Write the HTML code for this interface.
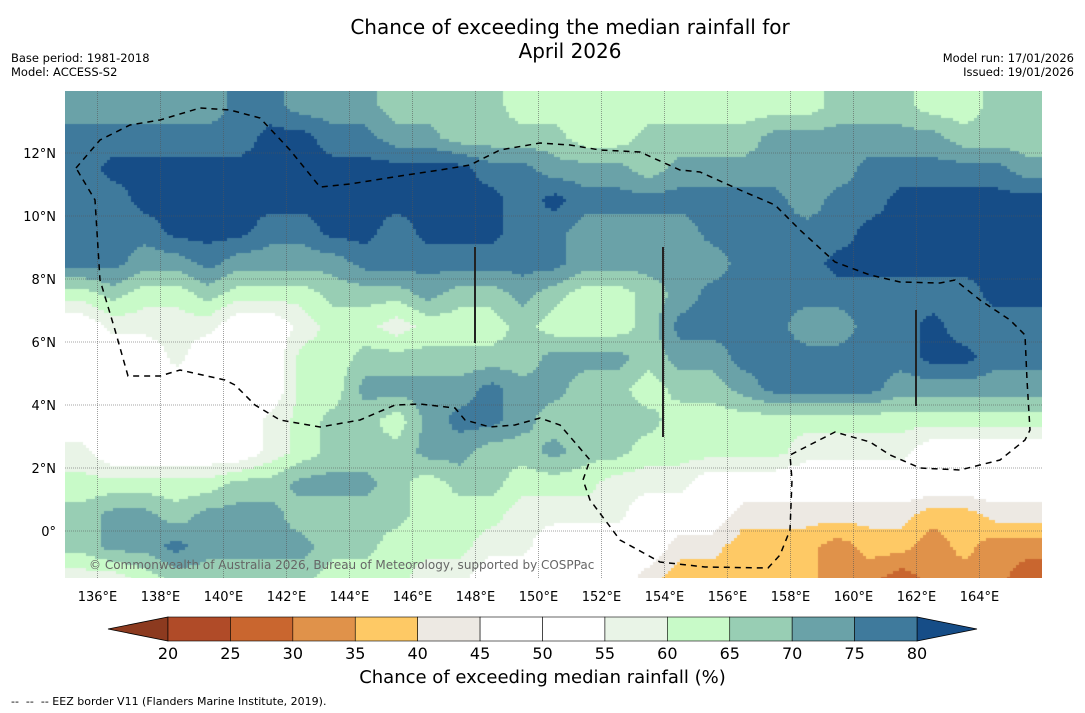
<!DOCTYPE html>
<html><head><meta charset="utf-8"><style>
body{margin:0;background:#fff;width:1085px;height:713px;overflow:hidden;position:relative;font-family:"DejaVu Sans","Liberation Sans",sans-serif;}
.t{position:absolute;white-space:nowrap;color:#000}
</style></head><body>
<div class="t" style="left:0;width:1140px;text-align:center;top:15px;font-size:20px;line-height:24px">Chance of exceeding the median rainfall for<br>April 2026</div>
<div class="t" style="left:11px;top:51px;font-size:11.5px;line-height:14px">Base period: 1981-2018<br>Model: ACCESS-S2</div>
<div class="t" style="right:11px;top:51px;font-size:11.5px;line-height:14px;text-align:right">Model run: 17/01/2026<br>Issued: 19/01/2026</div>
<canvas id="map" width="977" height="487" style="position:absolute;left:65px;top:91px"></canvas>
<svg id="ov" width="1085" height="713" style="position:absolute;left:0;top:0"></svg>
<div class="t" style="left:89px;top:558px;font-size:12px;color:#666">© Commonwealth of Australia 2026, Bureau of Meteorology, supported by COSPPac</div>
<div class="t" style="left:0;width:1085px;text-align:center;top:667px;font-size:18px">Chance of exceeding median rainfall (%)</div>
<div class="t" style="left:11px;top:695px;font-size:11px">--&nbsp; --&nbsp; -- EEZ border V11 (Flanders Marine Institute, 2019).</div>
<script>
const rows = [
[72,72,72,72,72,77,77,72,72,72,67,67,67,67,62,62,62,62,62,62,62,62,62,62,67,67,67,62,62,67,67],
[77,77,77,77,77,77,82,82,77,77,72,72,67,67,67,67,62,62,67,67,67,67,72,72,72,72,72,72,67,67,67],
[77,82,82,82,82,82,82,82,82,82,82,82,82,77,77,72,72,72,67,72,72,72,72,72,72,77,77,77,77,77,72],
[77,77,82,82,82,82,82,82,82,82,82,82,82,82,77,82,77,77,77,77,77,77,77,72,77,77,82,82,82,82,82],
[77,77,77,82,82,82,77,77,82,82,77,82,82,82,77,77,72,72,72,72,77,77,77,77,77,82,82,82,82,82,82],
[77,77,72,72,77,72,72,72,72,77,77,77,77,77,77,77,72,72,72,72,72,77,77,77,82,82,82,82,82,82,82],
[62,67,62,62,67,62,62,62,67,67,67,72,67,67,72,67,62,62,67,72,77,77,77,77,77,77,77,77,77,82,82],
[50,57,57,57,57,50,50,57,62,62,57,62,62,62,67,62,62,62,67,77,77,77,77,72,72,77,77,82,77,77,77],
[50,50,50,57,50,50,50,62,62,67,67,67,67,67,67,72,72,72,67,72,72,77,77,77,77,77,77,82,82,77,77],
[50,50,50,50,50,50,50,62,62,72,72,72,72,77,72,72,67,67,62,67,67,72,77,77,77,77,72,72,72,72,72],
[50,50,50,50,50,50,57,62,67,67,62,72,77,77,72,67,67,67,67,62,62,62,62,62,62,62,62,62,62,62,62],
[57,50,50,50,50,50,57,62,67,67,67,72,72,67,67,72,67,67,62,62,62,62,62,57,57,57,57,50,50,50,50],
[62,62,62,62,62,67,67,72,72,72,67,62,67,67,62,62,62,57,57,57,50,50,50,50,50,50,50,50,50,50,50],
[67,72,72,67,72,72,72,67,67,67,67,62,62,62,57,57,57,57,50,50,50,42,42,42,42,42,42,37,37,42,42],
[67,72,72,77,72,72,72,72,67,67,62,62,62,57,57,50,50,50,50,42,42,37,37,37,32,37,37,32,37,32,32],
[57,57,62,67,67,67,67,67,62,62,62,57,57,50,50,50,50,50,42,37,37,37,37,37,32,32,27,32,32,32,27]
];
const bounds = [20,25,30,35,40,45,50,55,60,65,70,75,80];
const colors = ["#8c3a1f","#b04b28","#c9662f","#e0924a","#fec965","#ede9e3","#ffffff","#ffffff","#e9f4e7","#c8fac8","#98ceb4","#6aa2a8","#3f7a9c","#164d87"];
const cbLabels = ["20","25","30","35","40","45","50","55","60","65","70","75","80"];
const lonTicks = [136,138,140,142,144,146,148,150,152,154,156,158,160,162,164];
const latTicks = [12,10,8,6,4,2,0];
const X = lon => 66 + (lon-135)*31.5;
const Y = lat => 531 - lat*31.5;
function colorOf(v){let i=0;while(i<bounds.length&&v>=bounds[i])i++;return colors[i];}
const cv=document.getElementById('map'),ctx=cv.getContext('2d');
const nr=rows.length,nc=rows[0].length;
function val(lon,lat){
  let fc=(lon-135.5), fr=(13.5-lat);
  fc=Math.max(0,Math.min(nc-1,fc)); fr=Math.max(0,Math.min(nr-1,fr));
  const c0=Math.floor(fc),r0=Math.floor(fr),c1=Math.min(nc-1,c0+1),r1=Math.min(nr-1,r0+1);
  const tx=fc-c0,ty=fr-r0;
  const a=rows[r0][c0]*(1-tx)+rows[r0][c1]*tx, b=rows[r1][c0]*(1-tx)+rows[r1][c1]*tx;
  return a*(1-ty)+b*ty;
}
const S=3;
for(let py=0;py<487;py+=S){for(let px=0;px<977;px+=S){
  const lon=135+(px+65+S/2-66)/31.5, lat=(531-(py+91+S/2))/31.5;
  ctx.fillStyle=colorOf(val(lon,lat));ctx.fillRect(px,py,S,S);
}}
const ov=document.getElementById('ov');const NS='http://www.w3.org/2000/svg';
function mk(tag,attrs,parent){const e=document.createElementNS(NS,tag);for(const k in attrs)e.setAttribute(k,attrs[k]);(parent||ov).appendChild(e);return e;}
const FF='DejaVu Sans, Liberation Sans, sans-serif';
lonTicks.forEach(l=>{
  const g=mk('line',{x1:X(l),x2:X(l),y1:91,y2:578,stroke:'#555','stroke-width':0.8,'stroke-dasharray':'1,1','stroke-opacity':0.7});
  
  
  const t=mk('text',{x:X(l),y:601,'text-anchor':'middle','font-size':13,'font-family':FF});
  t.textContent=l+'°E';
  
  
});
latTicks.forEach(l=>{
  const g=mk('line',{x1:65,x2:1042,y1:Y(l),y2:Y(l),stroke:'#555','stroke-width':0.8,'stroke-dasharray':'1,1','stroke-opacity':0.7});
  
  
  const t=mk('text',{x:56,y:Y(l)+5,'text-anchor':'end','font-size':13,'font-family':FF});
  t.textContent=l===0?'0°':l+'°N';
  
  
});
const eez="76,168 100,140 130,125 160,120 200,108 230,110 260,118 290,150 320,187 350,184 400,176 440,170 470,165 500,150 540,143 570,145 600,150 640,152 680,170 700,172 740,190 775,205 800,230 835,262 870,275 900,282 940,283 955,280 980,300 1010,320 1025,335 1027,380 1030,430 1025,440 1000,460 960,470 920,468 890,455 870,442 835,432 790,455 792,480 790,530 780,555 768,568 705,567 660,562 620,540 590,500 583,480 590,460 560,425 540,418 515,425 490,427 465,420 455,408 420,404 395,405 360,420 320,427 280,420 255,405 235,385 225,380 180,370 160,376 128,376 115,330 100,280 95,200 76,168";
const pl=mk('polyline',{points:eez,fill:'none',stroke:'#000','stroke-width':1.5,'stroke-dasharray':'6,5'});


[[475,247,343],[663,247,437],[916,310,406]].forEach(s=>{
  const l=mk('line',{x1:s[0],x2:s[0],y1:s[1],y2:s[2],stroke:'#222','stroke-width':2});
  
  
});
const cbx0=168,cbx1=917,cy0=617,cy1=641,seg=(cbx1-cbx0)/12;
const lt=mk('polygon',{points:`108,629 ${cbx0},${cy0} ${cbx0},${cy1}`,fill:colors[0],stroke:'#000','stroke-width':0.8});


const rt=mk('polygon',{points:`977,629 ${cbx1},${cy0} ${cbx1},${cy1}`,fill:colors[13],stroke:'#000','stroke-width':0.8});


for(let i=0;i<12;i++){
  const r=mk('rect',{x:cbx0+i*seg,y:cy0,width:seg,height:cy1-cy0,fill:colors[i+1],stroke:'#000','stroke-width':0.6});
  
  
}
cbLabels.forEach((s,i)=>{
  const t=mk('text',{x:cbx0+i*seg,y:659,'text-anchor':'middle','font-size':16,'font-family':FF});
  t.textContent=s;
  
  
});
</script>
</body></html>
